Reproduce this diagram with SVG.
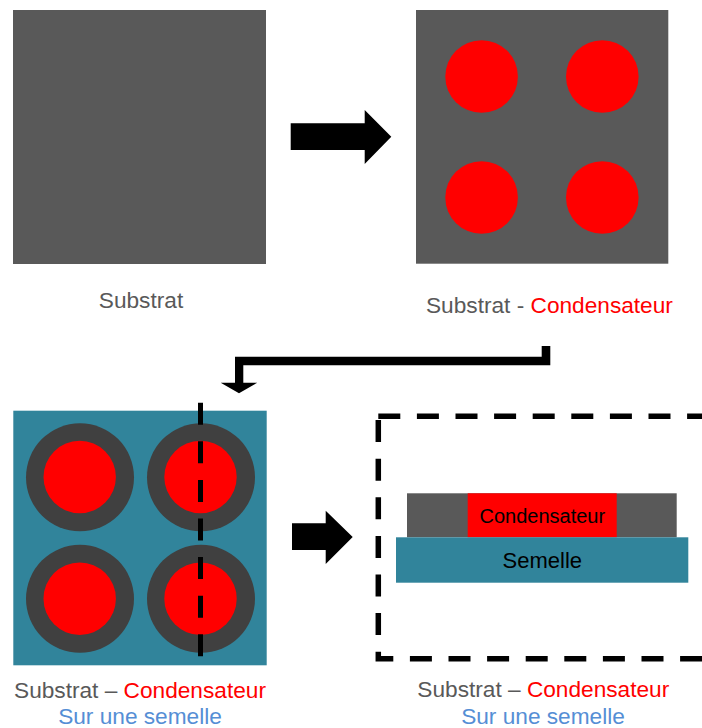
<svg xmlns="http://www.w3.org/2000/svg" width="702" height="728" viewBox="0 0 702 728">
<style>
.sub{fill:#595959}
.cap{fill:#FF0000}
.teal{fill:#31849B}
.ring{fill:#404040}
.arrow{fill:#000000}
.dash{fill:none;stroke:#000000;stroke-width:5.5;stroke-dasharray:22 16.6}
text{font-family:"Liberation Sans",Arial,sans-serif;font-size:22.67px}
.tg{fill:#595959}
.tr{fill:#FF0000}
.tb{fill:#558ED5}
.tk{fill:#000000}
</style>
<rect width="702" height="728" fill="#FFFFFF"/>
<g id="substrat">
<rect class="sub" x="13" y="10" width="253" height="254"/>
<text class="tg" x="141" y="308" text-anchor="middle">Substrat</text>
</g>
<g id="substrat-condensateur">
<rect class="sub" x="416" y="10" width="252.3" height="253.7"/>
<circle class="cap" cx="481.6" cy="76.5" r="36.3"/>
<circle class="cap" cx="602.3" cy="76.5" r="36.3"/>
<circle class="cap" cx="481.6" cy="197.5" r="36.3"/>
<circle class="cap" cx="602.3" cy="197.5" r="36.3"/>
<text x="426" y="312.7"><tspan class="tg">Substrat - </tspan><tspan class="tr">Condensateur</tspan></text>
</g>
<g id="semelle-vue-dessus">
<rect class="teal" x="13.3" y="410.7" width="253.4" height="254.6"/>
<circle class="ring" cx="80" cy="477.3" r="54"/>
<circle class="ring" cx="201" cy="477.3" r="54"/>
<circle class="ring" cx="80" cy="598.8" r="54"/>
<circle class="ring" cx="201" cy="598.8" r="54"/>
<circle class="cap" cx="79.7" cy="477" r="36.2"/>
<circle class="cap" cx="200.5" cy="477" r="36.2"/>
<circle class="cap" cx="79.7" cy="598.7" r="36.2"/>
<circle class="cap" cx="200.5" cy="598.7" r="36.2"/>
<text x="140" y="698.3" text-anchor="middle"><tspan class="tg">Substrat – </tspan><tspan class="tr">Condensateur</tspan></text>
<text class="tb" x="140" y="723.5" text-anchor="middle">Sur une semelle</text>
</g>
<g id="coupe">
<path class="dash" d="M378.3,416.2 H720"/>
<path class="dash" d="M720,658.7 H378.3 V416.2" stroke-dashoffset="20.7"/>
<rect class="sub" x="407" y="493.3" width="269.7" height="44"/>
<rect class="cap" x="467.7" y="493.3" width="149" height="44"/>
<rect class="teal" x="396" y="537.3" width="292.3" height="45.4"/>
<text class="tk" x="542.3" y="523.3" text-anchor="middle" style="font-size:20px">Condensateur</text>
<text class="tk" x="542.3" y="568.3" text-anchor="middle" style="font-size:22px">Semelle</text>
<text x="543.3" y="696.7" text-anchor="middle"><tspan class="tg">Substrat – </tspan><tspan class="tr">Condensateur</tspan></text>
<text class="tb" x="543" y="723.5" text-anchor="middle">Sur une semelle</text>
</g>
<g id="connectors">
<polygon class="arrow" points="290.7,123.3 364.7,123.3 364.7,110 391.3,136.7 364.7,164 364.7,150 290.7,150"/>
<polygon class="arrow" points="541.7,346 550.3,346 550.3,365.3 243.3,365.3 243.3,382.7 257.3,382.7 239,393.3 220.7,382.7 235,382.7 235,356.7 541.7,356.7"/>
<polygon class="arrow" points="292,523.3 325.7,523.3 325.7,510.7 352.7,537 325.7,564 325.7,550 292,550"/>
<line x1="200.5" y1="402.7" x2="200.5" y2="657.3" stroke="#000000" stroke-width="5" stroke-dasharray="22 16.6"/>
</g>
</svg>
